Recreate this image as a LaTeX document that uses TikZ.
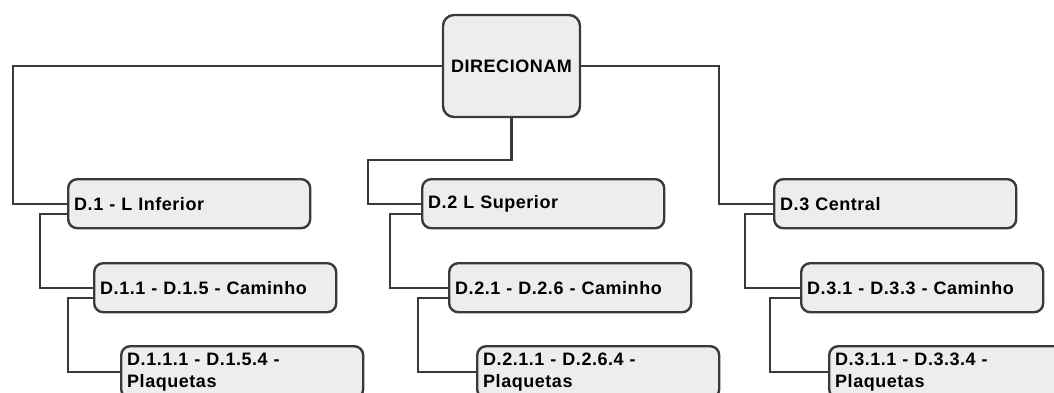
\documentclass[tikz,border=0pt]{standalone}
\usepackage{fontspec}
\setmainfont{Liberation Sans}[LetterSpace=3]
\usetikzlibrary{positioning}
\definecolor{dmLine}{HTML}{3A3A3A}
\definecolor{dmFill}{HTML}{EDEDED}

\begin{document}
\begin{tikzpicture}[x=1pt, y=-1pt,
  root/.style={draw=dmLine, fill=dmFill, rounded corners=11pt, line width=2.4pt,
               minimum width=137pt, minimum height=102pt, inner sep=0pt,
               font=\fontsize{18}{22}\selectfont\bfseries},
  item/.style={draw=dmLine, fill=dmFill, rounded corners=9pt, line width=2.4pt,
               anchor=north west, text width=230pt, inner xsep=6pt, inner ysep=0pt,
               minimum height=49pt, align=left,
               font=\fontsize{18}{22}\selectfont\bfseries},
  leaf/.style={item, minimum height=52pt},
  link/.style={draw=dmLine, line width=2.4pt}
]
  \clip (0,0) rectangle (1054,392);

  \node[root] (dir) at (511.5,66) {DIRECIONAM};

  \node[item] (d1) at (67,178) {D.1 - L Inferior};
  \node[item] (d11) at (93,262) {D.1.1 - D.1.5 - Caminho};
  \node[leaf] (d111) at (120,345) {D.1.1.1 - D.1.5.4 -\\Plaquetas};

  \node[item] (d2) at (421,178) {D.2 L Superior};
  \node[item] (d21) at (448,262) {D.2.1 - D.2.6 - Caminho};
  \node[leaf] (d211) at (476,345) {D.2.1.1 - D.2.6.4 -\\Plaquetas};

  \node[item] (d3) at (773,178) {D.3 Central};
  \node[item] (d31) at (800,262) {D.3.1 - D.3.3 - Caminho};
  \node[leaf] (d311) at (828,345) {D.3.1.1 - D.3.3.4 -\\Plaquetas};

  % top level
  \draw[link] (dir.west) -| ([xshift=-54pt]d1.west) -- (d1.west);
  \draw[link] (dir.south) -- ++(0,42) -| ([xshift=-53pt]d2.west) -- (d2.west);
  \draw[link] (dir.east) -| ([xshift=-54pt]d3.west) -- (d3.west);

  % branches
  \draw[link] ([yshift=-10.5pt]d1.west) -- ++(-27,0) |- (d11.west);
  \draw[link] ([yshift=-10.5pt]d11.west) -- ++(-25,0) |- (d111.west);
  \draw[link] ([yshift=-10.5pt]d2.west) -- ++(-31,0) |- (d21.west);
  \draw[link] ([yshift=-10.5pt]d21.west) -- ++(-30,0) |- (d211.west);
  \draw[link] ([yshift=-10.5pt]d3.west) -- ++(-28,0) |- (d31.west);
  \draw[link] ([yshift=-10.5pt]d31.west) -- ++(-30,0) |- (d311.west);
\end{tikzpicture}
\end{document}
